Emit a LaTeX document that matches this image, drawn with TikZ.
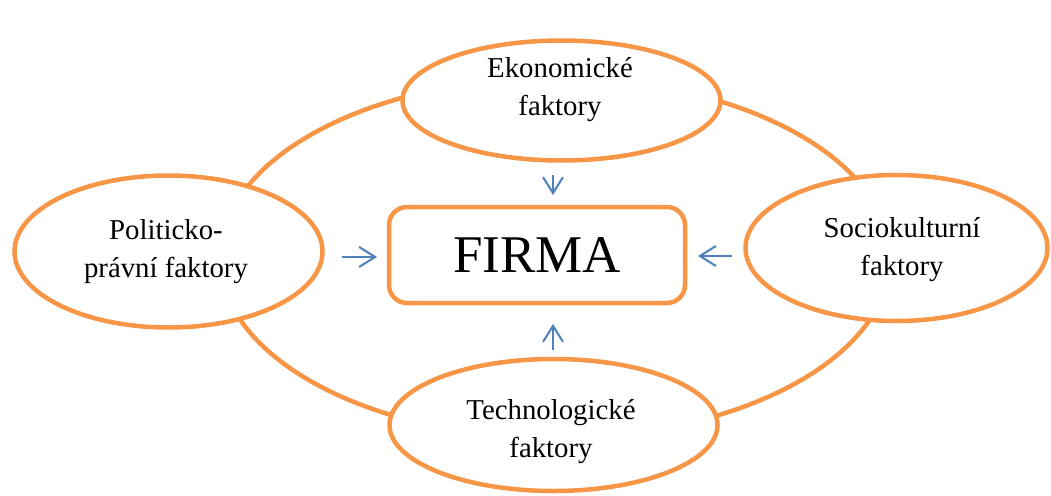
\documentclass[tikz,border=0pt]{standalone}
\usepackage{fontspec}
\setmainfont{Liberation Serif}
\usetikzlibrary{shapes.geometric,arrows.meta}
\definecolor{ringorange}{HTML}{F79646}
\definecolor{arrowblue}{HTML}{4F81BD}
\begin{document}
\begin{tikzpicture}[x=1pt,y=-1pt,
  oval/.style={ellipse, draw=ringorange, line width=4.5pt, fill=white, inner sep=0pt},
  factortext/.style={align=center, inner sep=0pt, font=\fontsize{28.8}{38}\selectfont},
  firmbox/.style={rectangle, rounded corners=18pt, draw=ringorange, line width=4.5pt,
    fill=white, minimum width=296pt, minimum height=96pt, inner sep=0pt,
    font=\fontsize{53}{60}\selectfont},
  push/.style={draw=arrowblue, line width=2pt, -{Straight Barb[length=16pt,width=20pt]}},
]
\fill[white] (0,0) rectangle (1051,495);
\useasboundingbox (0,0) rectangle (1051,495);

% surrounding environment ring
\node[oval, fill=none, minimum width=670pt, minimum height=360pt] (ring) at (555,258) {};

% the four groups of factors
\node[oval, minimum width=318pt, minimum height=120pt] (eko) at (561.5,100.5) {};
\node[oval, minimum width=308pt, minimum height=152pt] (pol) at (168.5,251.5) {};
\node[oval, minimum width=302pt, minimum height=146pt] (soc) at (896.5,248) {};
\node[oval, minimum width=328pt, minimum height=132pt] (tech) at (553.5,425) {};

\node[factortext] (ekoT) at (560,89.5) {Ekonomické\\faktory};
\node[factortext] (polT) at (166,251.5) {Politicko-\\právní faktory};
\node[factortext] (socT) at (902,249.5) {Sociokulturní\\faktory};
\node[factortext] (techT) at (551,432) {Technologické\\faktory};

% the firm in the middle
\node[firmbox] (firma) at (537,255) {FIRMA};

% influences acting on the firm
\coordinate (ekoOut) at (553,175);
\coordinate (firmaN) at (553,195);
\coordinate (polOut) at (342,257);
\coordinate (firmaW) at (377,257);
\coordinate (socOut) at (732,256);
\coordinate (firmaE) at (698,256);
\coordinate (techOut) at (553,350);
\coordinate (firmaS) at (553,324);

\draw[push] (ekoOut) -- (firmaN);
\draw[push] (polOut) -- (firmaW);
\draw[push] (socOut) -- (firmaE);
\draw[push] (techOut) -- (firmaS);
\end{tikzpicture}
\end{document}
